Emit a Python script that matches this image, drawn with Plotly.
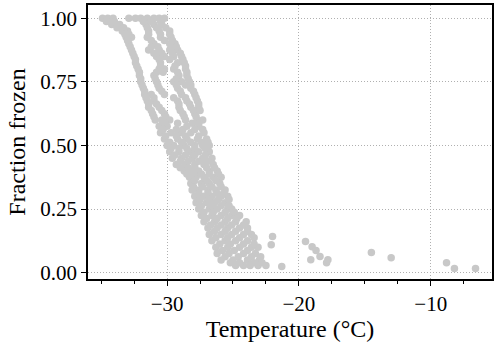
import plotly.graph_objects as go

# Fraction-frozen levels and the temperatures (°C) of points at each level
levels = [1.000, 0.975, 0.950, 0.925, 0.900, 0.875, 0.850, 0.825, 0.800, 0.775,
          0.750, 0.725, 0.700, 0.675, 0.650, 0.625, 0.600, 0.575, 0.550, 0.525,
          0.500, 0.475, 0.450, 0.425, 0.400, 0.375, 0.350, 0.325, 0.300, 0.275,
          0.250, 0.225, 0.200, 0.175, 0.150, 0.125, 0.100, 0.075, 0.050, 0.028]
temps_by_level = [
    [-34.9, -34.5, -34.1, -32.9, -32.4, -32.0, -31.5, -31.0, -30.6, -30.2],
    [-34.2, -33.6, -31.6, -31.0, -30.4],
    [-33.4, -33.0, -31.4, -30.6, -29.8],
    [-33.1, -32.7, -31.5, -30.5, -29.7],
    [-32.9, -31.0, -29.8, -29.4],
    [-32.7, -31.4, -30.6, -29.8, -29.2],
    [-32.5, -30.8, -30.2, -29.5, -28.9],
    [-32.4, -30.5, -29.2, -28.7],
    [-32.2, -30.6, -30.2, -29.5, -28.6],
    [-32.1, -31.0, -29.1, -28.5],
    [-32.0, -30.8, -29.5, -28.9, -28.3],
    [-31.8, -30.6, -29.2, -28.2],
    [-31.7, -31.2, -30.2, -28.9, -27.9],
    [-31.5, -31.0, -29.2, -28.5, -27.7],
    [-31.4, -30.6, -29.1, -28.2, -27.6],
    [-31.1, -30.2, -28.8, -27.9],
    [-30.9, -30.4, -29.8, -28.6, -27.7, -27.3],
    [-30.6, -30.0, -28.5, -27.6],
    [-30.5, -29.7, -28.9, -28.2, -27.2],
    [-30.2, -29.2, -28.5, -27.7, -27.0],
    [-30.0, -29.5, -28.7, -27.9, -27.3, -26.8],
    [-29.8, -29.1, -28.3, -27.6, -26.8],
    [-29.6, -28.9, -28.1, -27.3, -26.6],
    [-29.3, -28.6, -27.9, -27.2, -26.5],
    [-28.7, -28.2, -27.6, -26.8, -26.2],
    [-28.3, -27.8, -27.2, -26.5, -25.9],
    [-28.2, -27.4, -26.8, -26.0],
    [-28.1, -27.6, -26.9, -26.3, -25.6],
    [-27.9, -27.2, -26.6, -25.9, -25.4],
    [-27.8, -27.0, -26.4, -25.6],
    [-27.6, -26.8, -26.2, -25.4, -25.1],
    [-27.4, -26.6, -25.9, -25.1, -24.5],
    [-27.2, -26.4, -25.6, -24.8, -24.0],
    [-26.9, -26.2, -25.4, -24.5, -23.9],
    [-26.8, -25.9, -25.1, -24.2, -23.6],
    [-26.6, -25.6, -24.8, -23.9],
    [-26.3, -25.4, -24.5, -23.6, -23.1],
    [-26.2, -25.3, -24.2, -23.3],
    [-25.9, -25.0, -23.9, -23.0],
    [-24.8, -24.2, -23.7, -23.1, -22.5],
]

# Intermediate levels (other runs)
levels_b = [0.9875, 0.9625, 0.9375, 0.9125, 0.8875, 0.8625, 0.8375, 0.8125, 0.7875,
            0.7625, 0.7375, 0.7125, 0.6875, 0.6625, 0.6375, 0.6125, 0.5875, 0.5625,
            0.5375, 0.5125, 0.4875, 0.4625, 0.4375, 0.4125, 0.3875, 0.3625, 0.3375,
            0.3125, 0.2875, 0.2625, 0.2375, 0.2125, 0.1875, 0.1625, 0.1375, 0.1125,
            0.0875, 0.0625, 0.0390]
temps_b = [
    [-34.6, -34.0, -31.8, -31.2, -30.5],
    [-33.8, -33.3, -31.5, -30.8, -30.1],
    [-33.2, -32.9, -31.4, -30.5, -29.8],
    [-33.0, -31.2, -30.2, -29.6],
    [-32.8, -31.2, -30.7, -29.6, -29.3],
    [-32.6, -31.0, -30.4, -29.6, -29.0],
    [-32.4, -30.6, -29.8, -28.8],
    [-32.3, -30.5, -29.4, -28.6],
    [-32.1, -30.8, -30.3, -29.2, -28.5],
    [-32.0, -30.9, -29.3, -28.4],
    [-31.9, -30.7, -29.3, -28.6, -28.2],
    [-31.7, -30.4, -29.0, -28.0],
    [-31.6, -31.0, -29.5, -28.6, -27.8],
    [-31.4, -30.8, -29.1, -28.3, -27.6],
    [-31.2, -30.4, -29.0, -28.0, -27.5],
    [-31.0, -30.1, -28.7, -27.8],
    [-30.2, -29.2, -28.1, -27.6],
    [-30.3, -29.3, -28.8, -27.9, -27.3],
    [-30.1, -29.3, -28.6, -27.6],
    [-29.8, -28.9, -28.2, -27.4, -26.9],
    [-29.7, -29.1, -28.5, -27.9, -27.1],
    [-29.4, -28.6, -27.9, -27.1],
    [-29.0, -28.4, -27.6, -26.9],
    [-29.0, -28.4, -27.9, -27.0, -26.4],
    [-28.5, -28.0, -27.4, -26.8, -26.1],
    [-27.9, -27.0, -26.3],
    [-28.0, -27.3, -26.6, -25.9],
    [-27.6, -26.9, -26.2, -25.7],
    [-27.5, -26.8, -26.1, -25.3],
    [-27.4, -26.6, -25.9, -25.3],
    [-27.2, -26.5, -25.6, -24.9],
    [-27.0, -26.2, -25.4, -24.7],
    [-26.7, -25.9, -25.1, -24.2],
    [-26.4, -25.6, -24.8, -23.9],
    [-26.3, -25.4, -24.5, -23.4],
    [-26.0, -25.2, -24.2, -23.4],
    [-25.8, -24.9, -23.9],
    [-25.6, -24.6, -23.6, -22.9],
    [-25.2, -24.5, -23.4, -22.8],
]

# Sparse warm-side points
outlier_temps = [-22.0, -22.1, -21.3, -19.5, -19.0, -18.7, -18.4, -19.1, -17.9,
                 -17.8, -14.5, -13.0, -8.8, -8.2, -6.6]
outlier_fracs = [0.142, 0.110, 0.024, 0.122, 0.102, 0.087, 0.063, 0.051, 0.039,
                 0.051, 0.079, 0.059, 0.039, 0.016, 0.016]

x_tickvals = [-30, -20, -10]
y_tickvals = [0.0, 0.25, 0.5, 0.75, 1.0]

xs, ys = [], []
for lv, tl in ((levels, temps_by_level), (levels_b, temps_b)):
    for f, ts in zip(lv, tl):
        for t in ts:
            xs.append(t)
            ys.append(f)
xs += outlier_temps
ys += outlier_fracs

FONT = "Liberation Serif"

fig = go.Figure()
fig.add_trace(go.Scatter(
    x=xs, y=ys, mode="markers",
    marker=dict(color="#c8c8c8", size=7.5, line=dict(width=0)),
    showlegend=False,
))

axis_common = dict(
    showline=True, linecolor="black", linewidth=1.5, mirror=True,
    ticks="outside", ticklen=5, tickwidth=1.3, tickcolor="black",
    showgrid=True, gridcolor="#b0b0b0", griddash="1px,2px", gridwidth=1.2,
    zeroline=False, automargin=False,
    tickfont=dict(family=FONT, size=21, color="black"),
)

fig.update_xaxes(
    **axis_common,
    range=[-36.0, -5.35],
    tickvals=x_tickvals,
    ticktext=["\u221230", "\u221220", "\u221210"],
    minor=dict(dtick=2.5, tick0=-30, ticks="outside", ticklen=3, tickwidth=1,
               tickcolor="black", showgrid=False),
    title=dict(text="Temperature (°C)", font=dict(family=FONT, size=24, color="black"),
               standoff=0),
)
fig.update_yaxes(
    **axis_common,
    range=[-0.025, 1.052],
    tickvals=y_tickvals,
    ticktext=["0.00", "0.25", "0.50", "0.75", "1.00"],
    title=dict(text="Fraction frozen", font=dict(family=FONT, size=24, color="black"),
               standoff=8),
)

fig.update_layout(
    width=500, height=352,
    margin=dict(l=88, r=8, t=5, b=73),
    plot_bgcolor="white", paper_bgcolor="white",
)

fig.write_html("out.html", config={"displayModeBar": False},
               post_script="document.body.style.margin='0';")
